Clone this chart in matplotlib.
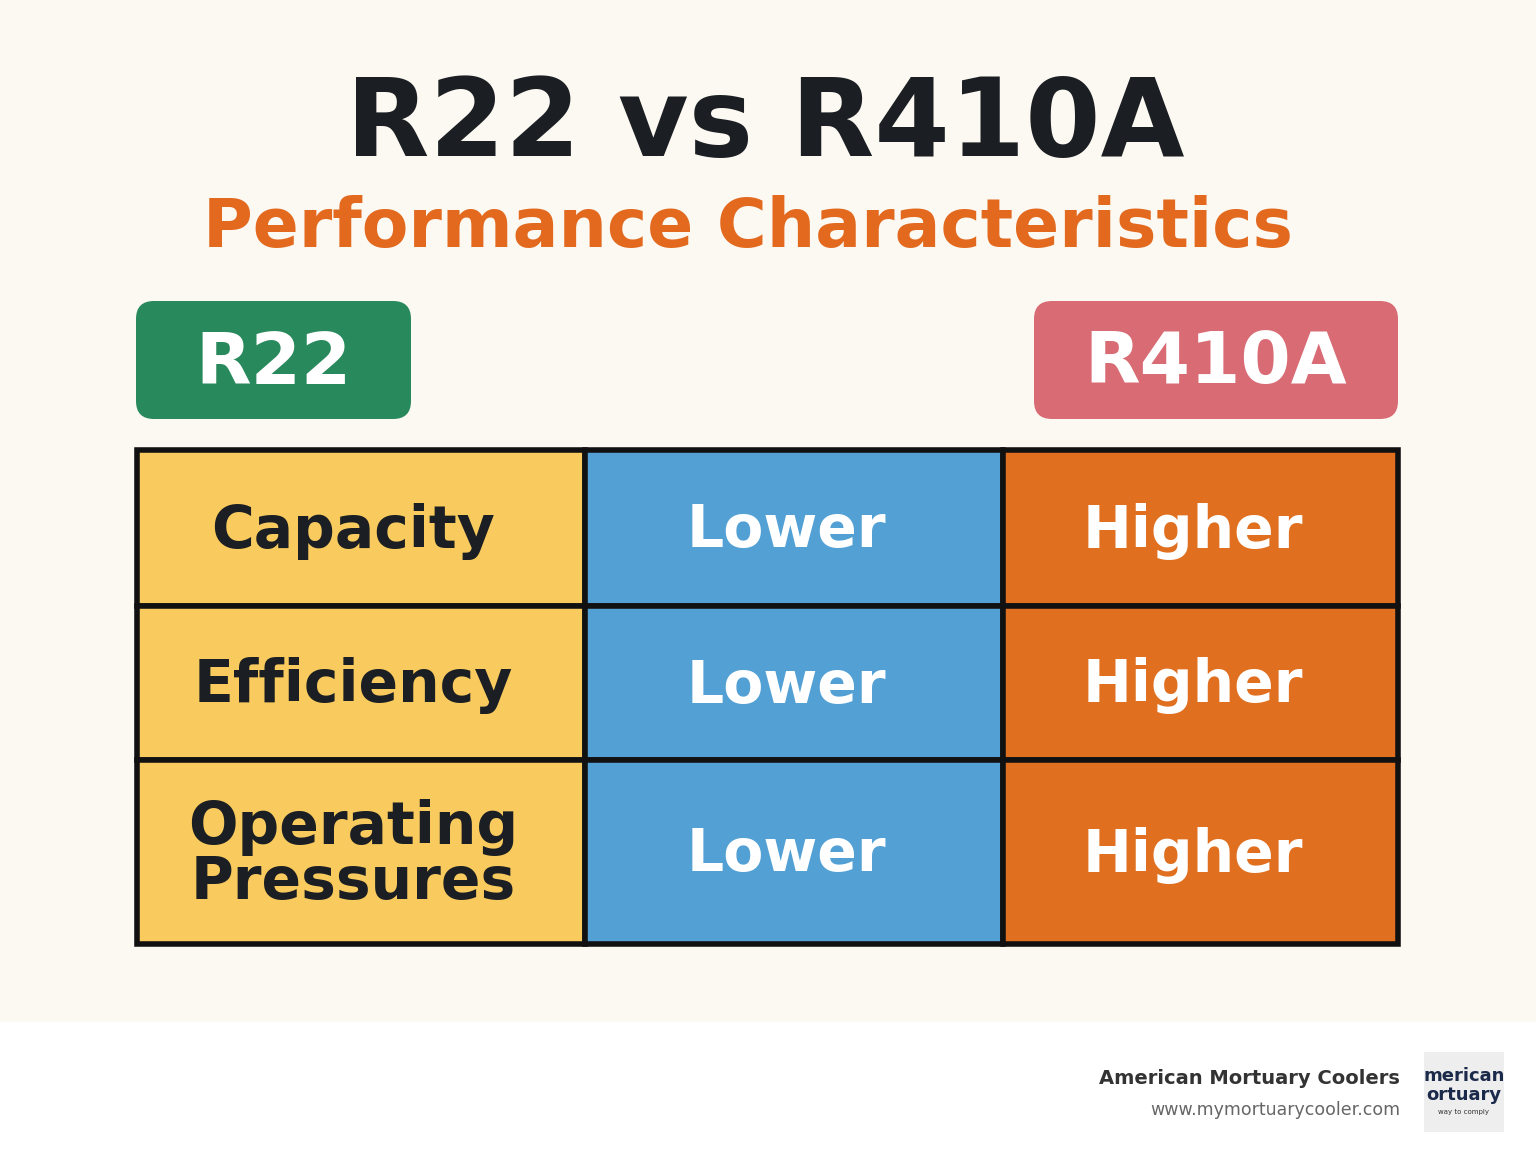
import matplotlib.pyplot as plt
from matplotlib.patches import Rectangle, FancyBboxPatch

title = "R22 vs R410A"
subtitle = "Performance Characteristics"
headers = ["R22", "R410A"]
rows = ["Capacity", "Efficiency", "Operating\nPressures"]
r22_values = ["Lower", "Lower", "Lower"]
r410a_values = ["Higher", "Higher", "Higher"]

col_edges = [137, 585, 1003, 1398]
row_edges = [450, 606, 760, 944]
col_colors = ["#F9CB5E", "#52A0D4", "#E06F1F"]
text_colors = ["#1B1F23", "white", "white"]

fig = plt.figure(figsize=(15.36, 11.54), dpi=100)
ax = fig.add_axes([0, 0, 1, 1])
ax.set_xlim(0, 1536)
ax.set_ylim(1154, 0)
ax.axis("off")
fig.patch.set_facecolor("white")
ax.add_patch(Rectangle((0, 0), 1536, 1022, facecolor="#FCF8F2", edgecolor="none"))

font = "DejaVu Sans"
ax.text(765, 126, title, ha="center", va="center", fontsize=78, fontweight="bold",
        color="#1B1F23", family=font)
ax.text(748, 228, subtitle, ha="center", va="center", fontsize=49, fontweight="bold",
        color="#E2691E", family=font)

# header badges
badges = [(136, 411, "#27895C"), (1034, 1398, "#D86B74")]
for (x0, x1, c), label in zip(badges, headers):
    ax.add_patch(FancyBboxPatch((x0 + 18, 301 + 18), x1 - x0 - 36, 118 - 36,
                                boxstyle="round,pad=18", facecolor=c, edgecolor="none"))
    ax.text((x0 + x1) / 2, 364, label, ha="center", va="center", fontsize=52,
            fontweight="bold", color="white", family=font)

# table cells
for i, cells in enumerate(zip(rows, r22_values, r410a_values)):
    y0, y1 = row_edges[i], row_edges[i + 1]
    for j, txt in enumerate(cells):
        x0, x1 = col_edges[j], col_edges[j + 1]
        ax.add_patch(Rectangle((x0, y0), x1 - x0, y1 - y0, facecolor=col_colors[j],
                               edgecolor="#111111", linewidth=4))
        ax.text((x0 + x1) / 2 - 8, (y0 + y1) / 2 + 3, txt, ha="center", va="center",
                fontsize=42, fontweight="bold", color=text_colors[j], family=font,
                linespacing=0.95)

# footer
ax.text(1400, 1078, "American Mortuary Coolers", ha="right", va="center", fontsize=14,
        fontweight="bold", color="#333333", family=font)
ax.text(1400, 1110, "www.mymortuarycooler.com", ha="right", va="center", fontsize=12.5,
        color="#666666", family=font)
ax.add_patch(Rectangle((1424, 1052), 80, 80, facecolor="#EEEEEE", edgecolor="none"))
ax.text(1464, 1076, "merican", ha="center", va="center", fontsize=13, fontweight="bold",
        color="#1B2A4A", family=font)
ax.text(1464, 1095, "ortuary", ha="center", va="center", fontsize=13, fontweight="bold",
        color="#1B2A4A", family=font)
ax.text(1464, 1112, "way to comply", ha="center", va="center", fontsize=5,
        color="#333333", family=font)

fig.savefig("out.png", dpi=100, facecolor=fig.get_facecolor())
